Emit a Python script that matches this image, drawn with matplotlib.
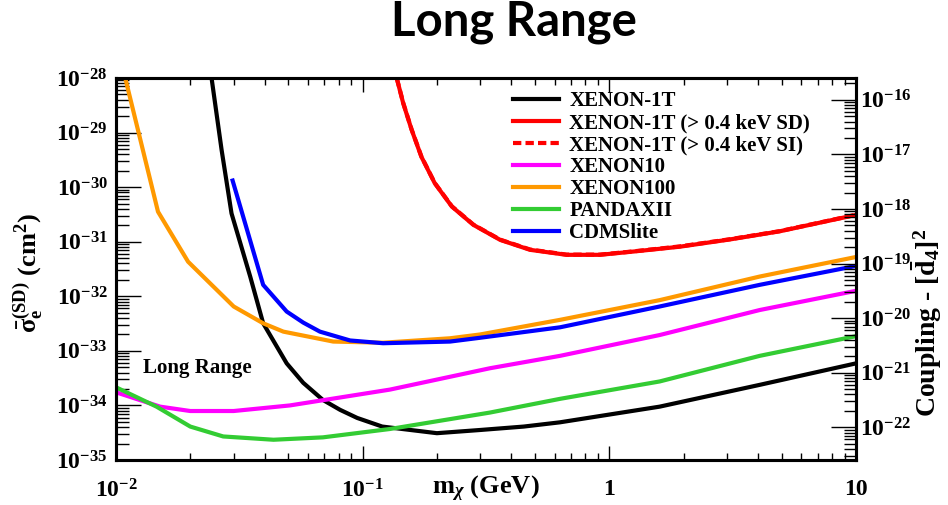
import numpy as np
import matplotlib
matplotlib.use("Agg")
from matplotlib import pyplot as plt

plt.rcParams['font.family'] = ['Liberation Serif', 'DejaVu Serif']
plt.rcParams['font.weight'] = 'bold'
plt.rcParams['axes.labelweight'] = 'bold'
plt.rcParams['mathtext.fontset'] = 'custom'
plt.rcParams['mathtext.rm'] = 'Liberation Serif:bold'
plt.rcParams['mathtext.it'] = 'Liberation Serif:bold:italic'
plt.rcParams['mathtext.bf'] = 'Liberation Serif:bold'

# data (mass in GeV, cross section in cm^2)
m_x1t = [0.0244, 0.0268, 0.0294, 0.035, 0.0395, 0.0492, 0.0574, 0.069, 0.081, 0.095, 0.12, 0.2,
         0.3, 0.45, 0.63, 1.6, 4.1, 10]
s_x1t = [1.0e-28, 4.8e-30, 3.3e-31, 2.3e-32, 3.2e-33, 5.9e-34, 2.6e-34, 1.26e-34, 8.3e-35, 5.9e-35,
         4.1e-35, 3.1e-35, 3.55e-35, 4.1e-35, 4.9e-35, 9.5e-35, 2.4e-34, 5.9e-34]

m_x1t_sd = [0.1374, 0.146, 0.158, 0.173, 0.196, 0.23, 0.281, 0.361, 0.477, 0.671, 0.916, 1.25,
            1.93, 3.08, 4.9, 10]
s_x1t_sd = [1.0e-28, 3.45e-29, 1.12e-29, 3.6e-30, 1.18e-30, 4.4e-31, 2.04e-31, 1.08e-31, 7.1e-32,
            5.75e-32, 5.75e-32, 6.6e-32, 8.1e-32, 1.1e-31, 1.55e-31, 3.1e-31]

m_x1t_si = [0.1374, 0.146, 0.158, 0.173, 0.196, 0.23, 0.281, 0.361, 0.477, 0.671, 0.916, 1.25,
            1.93, 3.08, 4.9, 10]
s_x1t_si = [1.0e-28, 3.5e-29, 1.13e-29, 3.65e-30, 1.19e-30, 4.45e-31, 2.06e-31, 1.09e-31, 7.2e-32,
            5.8e-32, 5.8e-32, 6.65e-32, 8.2e-32, 1.11e-31, 1.56e-31, 3.12e-31]

m_x10 = [0.01, 0.0151, 0.02, 0.03, 0.0507, 0.129, 0.328, 0.631, 1.6, 4.07, 10]
s_x10 = [1.74e-34, 9.5e-35, 7.9e-35, 7.9e-35, 1.0e-34, 1.95e-34, 4.8e-34, 8.1e-34, 1.95e-33, 5.6e-33, 1.26e-32]

m_x100 = [0.0109, 0.0148, 0.0196, 0.03, 0.0395, 0.0477, 0.076, 0.121, 0.226, 0.3, 0.631, 1.6, 4.07, 10]
s_x100 = [1.0e-28, 3.55e-31, 4.3e-32, 6.5e-33, 3.2e-33, 2.25e-33, 1.48e-33, 1.41e-33, 1.7e-33,
          2.0e-33, 3.7e-33, 8.5e-33, 2.3e-32, 5.25e-32]

m_pandax = [0.01, 0.0146, 0.02, 0.0272, 0.0435, 0.069, 0.129, 0.328, 0.631, 1.6, 4.07, 10]
s_pandax = [2.15e-34, 9.5e-35, 4.1e-35, 2.7e-35, 2.35e-35, 2.6e-35, 3.7e-35, 7.4e-35, 1.32e-34,
            2.75e-34, 8.1e-34, 1.86e-33]

m_cdms = [0.0297, 0.0395, 0.0492, 0.0574, 0.0671, 0.0889, 0.121, 0.226, 0.3, 0.631, 1.6, 4.07, 10]
s_cdms = [1.32e-30, 1.62e-32, 5.25e-33, 3.3e-33, 2.25e-33, 1.55e-33, 1.38e-33, 1.48e-33, 1.74e-33,
          2.7e-33, 6.5e-33, 1.62e-32, 3.6e-32]

xticks = [0.01, 0.1, 1, 10]
xtick_labels = [r'$10^{-2}$', r'$10^{-1}$', '1', '10']
yticks = [1e-35, 1e-34, 1e-33, 1e-32, 1e-31, 1e-30, 1e-29, 1e-28]
ytick_labels = [r'$10^{-35}$', r'$10^{-34}$', r'$10^{-33}$', r'$10^{-32}$',
                r'$10^{-31}$', r'$10^{-30}$', r'$10^{-29}$', r'$10^{-28}$']
y2ticks = [1e-22, 1e-21, 1e-20, 1e-19, 1e-18, 1e-17, 1e-16]
y2tick_labels = [r'$10^{-22}$', r'$10^{-21}$', r'$10^{-20}$', r'$10^{-19}$',
                 r'$10^{-18}$', r'$10^{-17}$', r'$10^{-16}$']
coupling_shift = 10 ** 12.4  # right axis = left axis * shift

fig = plt.figure(figsize=(9.48, 5.05), dpi=100)
ax = fig.add_axes([116 / 948, 1 - 460 / 505, 740 / 948, 382 / 505])

lw = 3
ax.plot(m_x1t, s_x1t, color='black', lw=lw, label='XENON-1T')
ax.plot(m_x1t_sd, s_x1t_sd, color='#ff0000', lw=lw, label='XENON-1T (> 0.4 keV SD)')
ax.plot(m_x1t_si, s_x1t_si, color='#ff0000', lw=lw, ls=(0, (2, 1)), label='XENON-1T (> 0.4 keV SI)')
ax.plot(m_x10, s_x10, color='#ff00ff', lw=lw, label='XENON10')
ax.plot(m_x100, s_x100, color='#ff9900', lw=lw, label='XENON100')
ax.plot(m_pandax, s_pandax, color='#33cc33', lw=lw, label='PANDAXII')
ax.plot(m_cdms, s_cdms, color='#0000ff', lw=lw, label='CDMSlite')

ax.set_xscale('log')
ax.set_yscale('log')
ax.set_xlim(0.01, 10)
ax.set_ylim(1e-35, 1e-28)

minor_subs = [2, 3, 4, 5, 6, 7, 8, 9]
ax.xaxis.set_minor_locator(matplotlib.ticker.LogLocator(base=10, subs=minor_subs))
ax.yaxis.set_minor_locator(matplotlib.ticker.LogLocator(base=10, subs=minor_subs, numticks=20))
ax.xaxis.set_minor_formatter(matplotlib.ticker.NullFormatter())
ax.yaxis.set_minor_formatter(matplotlib.ticker.NullFormatter())
ax.set_xticks(xticks, xtick_labels)
ax.set_yticks(yticks, ytick_labels)
ax.tick_params(which='both', direction='in', top=True, right=False, width=1.0)
ax.tick_params(axis='x', which='major', length=10, pad=14, labelsize=17)
ax.tick_params(axis='x', which='minor', length=5)
ax.tick_params(axis='y', which='major', length=18, pad=6, labelsize=17)
ax.tick_params(axis='y', which='minor', length=9)
for sp in ax.spines.values():
    sp.set_linewidth(2.2)

ax2 = ax.twinx()
ax2.set_yscale('log')
ax2.set_ylim(1e-35 * coupling_shift, 1e-28 * coupling_shift)
ax2.yaxis.set_minor_locator(matplotlib.ticker.LogLocator(base=10, subs=minor_subs, numticks=20))
ax2.yaxis.set_minor_formatter(matplotlib.ticker.NullFormatter())
ax2.set_yticks(y2ticks, y2tick_labels)
ax2.tick_params(which='both', direction='in', width=1.0)
ax2.tick_params(which='major', length=18, pad=3, labelsize=17)
ax2.tick_params(which='minor', length=9)
for sp in ax2.spines.values():
    sp.set_linewidth(2.2)

ax.set_xlabel(r'm$_{\chi}$ (GeV)', fontsize=19)
ax.xaxis.set_label_coords(0.5, -0.076)
ax.xaxis.label.set_va('center')
ax.set_ylabel(r'$\bar{\mathrm{\sigma}}_{\mathrm{e}}^{\mathrm{(SD)}}$ (cm$^2$)', fontsize=19)
ax.yaxis.set_label_coords(-0.119, 0.49)
ax.yaxis.label.set_va('center')
ax2.set_ylabel(r'Coupling - $[\bar{\mathrm{d}}_4]^2$', fontsize=20, rotation=90)
ax2.yaxis.set_label_coords(1.096, 0.36)
ax2.yaxis.label.set_va('center')

ax.text(0.036, 0.24, 'Long Range', transform=ax.transAxes, fontsize=15, va='center')

ax.legend(loc='upper left', bbox_to_anchor=(513 / 948, 1 - 91 / 505),
          bbox_transform=fig.transFigure, frameon=False, fontsize=15,
          handlelength=2.2, handletextpad=0.5, labelspacing=0.1, borderpad=0, borderaxespad=0)

fig.text(514 / 948, 1 - 36 / 505, 'Long Range', family=['Lato', 'DejaVu Sans'],
         fontweight='bold', fontsize=34, ha='center', va='baseline')

fig.savefig('out.png', dpi=100)
